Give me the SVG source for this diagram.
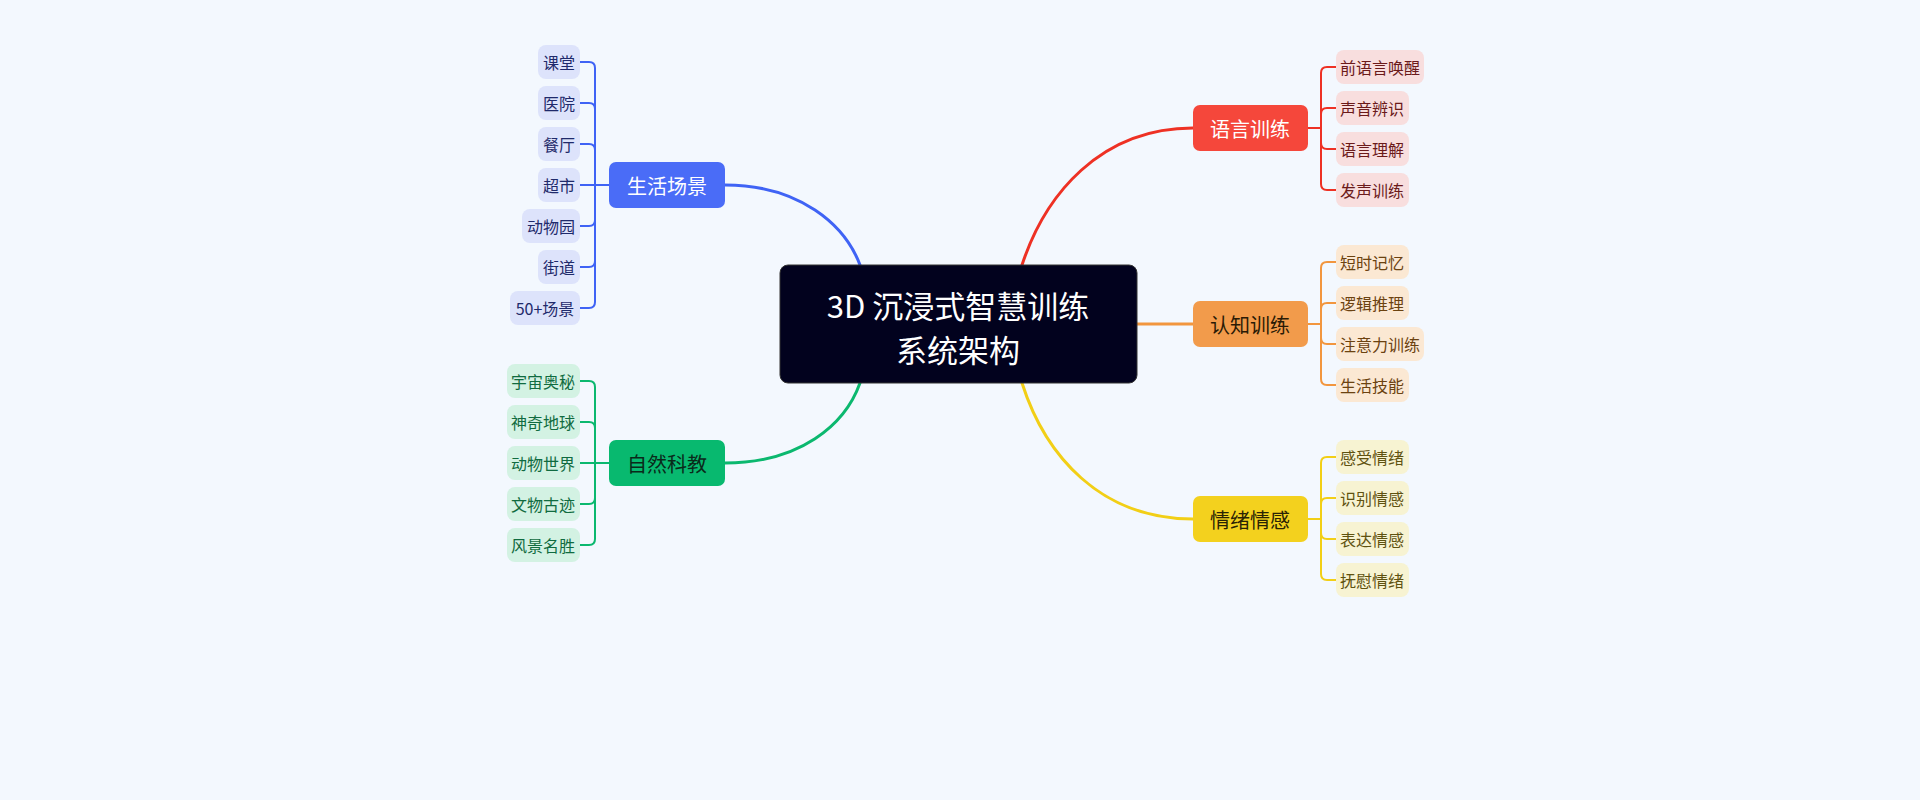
<svg xmlns="http://www.w3.org/2000/svg" width="1920" height="800" viewBox="0 0 1920 800">
<style>
text{font-family:"Noto Sans CJK SC","Noto Sans",sans-serif;text-anchor:middle;dominant-baseline:central}
.leaf{font-size:16px}
.br{font-size:20px}
.c{fill:none;stroke-width:3;stroke-linecap:round}
.l{fill:none;stroke-width:2}
</style>
<rect width="1920" height="800" fill="#f3f8fe"/>
<g id="connectors">
<path class="c" stroke="#3f63f5" d="M725,185 C800,185 845,225 860,265"/>
<path class="c" stroke="#0bb86f" d="M725,463 C800,463 845,425 860,383"/>
<path class="c" stroke="#ee3124" d="M1022,265 C1045,195 1100,128 1193,128"/>
<path class="c" stroke="#f2963e" d="M1137,324 H1193"/>
<path class="c" stroke="#f2cf16" d="M1022,383 C1045,455 1100,519 1193,519"/>
<g class="l" stroke="#3f63f5">
<path d="M580,62 H589 Q595,62 595,68 V302 Q595,308 589,308 H580"/>
<path d="M580,103 H589 Q595,103 595,109"/><path d="M580,144 H589 Q595,144 595,150"/>
<path d="M580,185 H609"/><path d="M580,226 H589 Q595,226 595,220"/><path d="M580,267 H589 Q595,267 595,261"/>
</g>
<g class="l" stroke="#0bb86f">
<path d="M580,381 H589 Q595,381 595,387 V539 Q595,545 589,545 H580"/>
<path d="M580,422 H589 Q595,422 595,428"/><path d="M580,463 H609"/><path d="M580,504 H589 Q595,504 595,498"/>
</g>
<g class="l" stroke="#ee3124">
<path d="M1336,67 H1327 Q1321,67 1321,73 V184 Q1321,190 1327,190 H1336"/>
<path d="M1336,108 H1327 Q1321,108 1321,114"/><path d="M1336,149 H1327 Q1321,149 1321,143"/><path d="M1308,128 H1321"/>
</g>
<g class="l" stroke="#f2963e">
<path d="M1336,262 H1327 Q1321,262 1321,268 V379 Q1321,385 1327,385 H1336"/>
<path d="M1336,303 H1327 Q1321,303 1321,309"/><path d="M1336,344 H1327 Q1321,344 1321,338"/><path d="M1308,324 H1321"/>
</g>
<g class="l" stroke="#f2cf16">
<path d="M1336,457 H1327 Q1321,457 1321,463 V574 Q1321,580 1327,580 H1336"/>
<path d="M1336,498 H1327 Q1321,498 1321,504"/><path d="M1336,539 H1327 Q1321,539 1321,533"/><path d="M1308,519 H1321"/>
</g>
</g>
<g id="center"><rect x="780" y="265" width="357" height="118" rx="8" fill="#02021e" stroke="#333" stroke-width="1"/>
<text x="958" y="304" font-size="31" fill="#fff">3D 沉浸式智慧训练</text><text x="958" y="348" font-size="31" fill="#fff">系统架构</text></g>
<g id="b-life"><rect x="609" y="162" width="116" height="46" rx="7" fill="#4a6cf7"/><text class="br" x="667" y="185" fill="#fff">生活场景</text></g>
<g id="b-nature"><rect x="609" y="440" width="116" height="46" rx="7" fill="#08b96f"/><text class="br" x="667" y="463" fill="#0a2a1a">自然科教</text></g>
<g id="b-lang"><rect x="1193" y="105" width="115" height="46" rx="7" fill="#f5473b"/><text class="br" x="1250" y="128" fill="#fff">语言训练</text></g>
<g id="b-cog"><rect x="1193" y="301" width="115" height="46" rx="7" fill="#f29b4b"/><text class="br" x="1250" y="324" fill="#2a1a05">认知训练</text></g>
<g id="b-emo"><rect x="1193" y="496" width="115" height="46" rx="7" fill="#f3d11e"/><text class="br" x="1250" y="519" fill="#2a2405">情绪情感</text></g>
<g fill="#dde3fb">
<g id="l1"><rect x="538" y="45" width="42" height="34" rx="8"/><text class="leaf" x="559" y="62" fill="#1f2a6b">课堂</text></g>
<g id="l2"><rect x="538" y="86" width="42" height="34" rx="8"/><text class="leaf" x="559" y="103" fill="#1f2a6b">医院</text></g>
<g id="l3"><rect x="538" y="127" width="42" height="34" rx="8"/><text class="leaf" x="559" y="144" fill="#1f2a6b">餐厅</text></g>
<g id="l4"><rect x="538" y="168" width="42" height="34" rx="8"/><text class="leaf" x="559" y="185" fill="#1f2a6b">超市</text></g>
<g id="l5"><rect x="522" y="209" width="58" height="34" rx="8"/><text class="leaf" x="551" y="226" fill="#1f2a6b">动物园</text></g>
<g id="l6"><rect x="538" y="250" width="42" height="34" rx="8"/><text class="leaf" x="559" y="267" fill="#1f2a6b">街道</text></g>
<g id="l7"><rect x="510" y="291" width="70" height="34" rx="8"/><text class="leaf" x="545" y="308" fill="#1f2a6b">50+场景</text></g>
</g>
<g fill="#d3f2e3">
<g id="n1"><rect x="507" y="364" width="73" height="34" rx="8"/><text class="leaf" x="543" y="381" fill="#106b40">宇宙奥秘</text></g>
<g id="n2"><rect x="507" y="405" width="73" height="34" rx="8"/><text class="leaf" x="543" y="422" fill="#106b40">神奇地球</text></g>
<g id="n3"><rect x="507" y="446" width="73" height="34" rx="8"/><text class="leaf" x="543" y="463" fill="#106b40">动物世界</text></g>
<g id="n4"><rect x="507" y="487" width="73" height="34" rx="8"/><text class="leaf" x="543" y="504" fill="#106b40">文物古迹</text></g>
<g id="n5"><rect x="507" y="528" width="73" height="34" rx="8"/><text class="leaf" x="543" y="545" fill="#106b40">风景名胜</text></g>
</g>
<g fill="#f8dede">
<g id="r1"><rect x="1336" y="50" width="88" height="34" rx="8"/><text class="leaf" x="1380" y="67" fill="#6b1a1a">前语言唤醒</text></g>
<g id="r2"><rect x="1336" y="91" width="73" height="34" rx="8"/><text class="leaf" x="1372" y="108" fill="#6b1a1a">声音辨识</text></g>
<g id="r3"><rect x="1336" y="132" width="73" height="34" rx="8"/><text class="leaf" x="1372" y="149" fill="#6b1a1a">语言理解</text></g>
<g id="r4"><rect x="1336" y="173" width="73" height="34" rx="8"/><text class="leaf" x="1372" y="190" fill="#6b1a1a">发声训练</text></g>
</g>
<g fill="#fbe8d3">
<g id="o1"><rect x="1336" y="245" width="73" height="34" rx="8"/><text class="leaf" x="1372" y="262" fill="#6b4210">短时记忆</text></g>
<g id="o2"><rect x="1336" y="286" width="73" height="34" rx="8"/><text class="leaf" x="1372" y="303" fill="#6b4210">逻辑推理</text></g>
<g id="o3"><rect x="1336" y="327" width="88" height="34" rx="8"/><text class="leaf" x="1380" y="344" fill="#6b4210">注意力训练</text></g>
<g id="o4"><rect x="1336" y="368" width="73" height="34" rx="8"/><text class="leaf" x="1372" y="385" fill="#6b4210">生活技能</text></g>
</g>
<g fill="#f7f3d2">
<g id="y1"><rect x="1336" y="440" width="73" height="34" rx="8"/><text class="leaf" x="1372" y="457" fill="#5f5210">感受情绪</text></g>
<g id="y2"><rect x="1336" y="481" width="73" height="34" rx="8"/><text class="leaf" x="1372" y="498" fill="#5f5210">识别情感</text></g>
<g id="y3"><rect x="1336" y="522" width="73" height="34" rx="8"/><text class="leaf" x="1372" y="539" fill="#5f5210">表达情感</text></g>
<g id="y4"><rect x="1336" y="563" width="73" height="34" rx="8"/><text class="leaf" x="1372" y="580" fill="#5f5210">抚慰情绪</text></g>
</g>
</svg>
